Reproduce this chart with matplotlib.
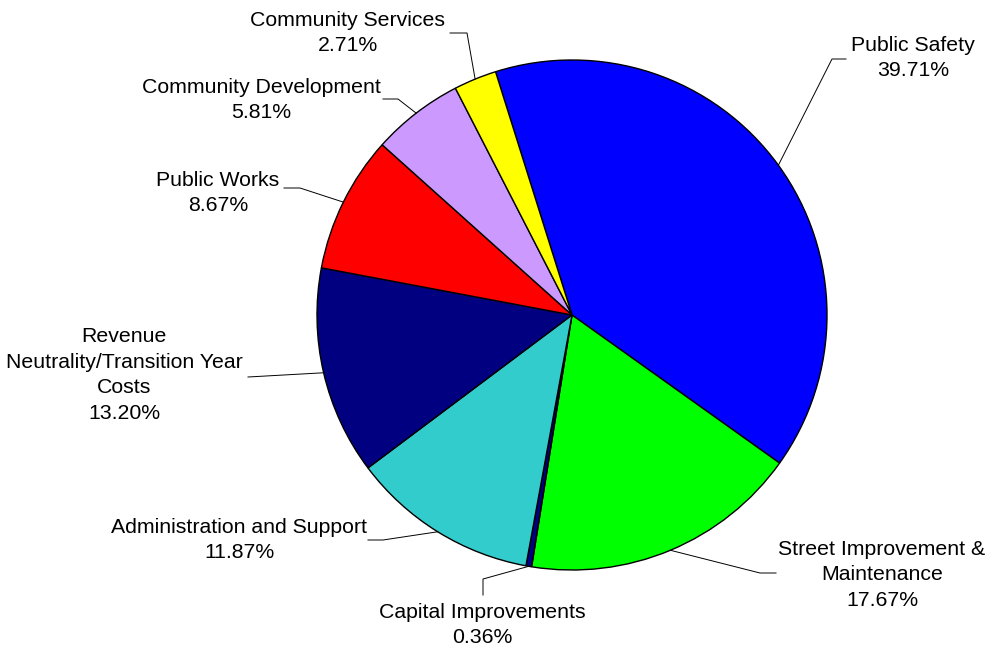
import numpy as np
import matplotlib.pyplot as plt

plt.rcParams['font.family'] = ['Liberation Sans', 'DejaVu Sans']

labels = ['Public Safety', 'Street Improvement &\nMaintenance', 'Capital Improvements',
          'Administration and Support', 'Revenue\nNeutrality/Transition Year\nCosts',
          'Public Works', 'Community Development', 'Community Services']
shares = [39.71, 17.67, 0.36, 11.87, 13.20, 8.67, 5.81, 2.71]
colors = ['#0000FF', '#00FF00', '#000080', '#33CCCC', '#000080',
          '#FF0000', '#CC99FF', '#FFFF00']

W, H = 989, 652
cx, cy, r = 572, 315, 255
start = 107.45

# leader line elbow / end and text centre, in pixel coords (y down)
elbows = [(832, 59), (760, 573), (483, 579), (383, 540), (248, 377),
          (300, 188), (398, 99), (467, 33)]
ends = [(846, 59), (776, 573), (483, 595), (368, 540), (248, 377),
        (284, 188), (383, 99), (450, 33)]
text_pos = [(913, 58), (882, 575), (482, 625), (239, 540), (124, 375),
            (218, 193), (261, 100), (348, 33)]

fig = plt.figure(figsize=(W / 100, H / 100), dpi=100)
ax = fig.add_axes([0, 0, 1, 1])

wedges, _ = ax.pie(shares, colors=colors, startangle=start, counterclock=False,
                   center=(cx, H - cy), radius=r,
                   wedgeprops=dict(edgecolor='black', linewidth=1.0))

ang = start
for i, v in enumerate(shares):
    mid = np.deg2rad(ang - v * 3.6 / 2)
    ang -= v * 3.6
    px, py = cx + r * np.cos(mid), cy - r * np.sin(mid)
    xs = [px, elbows[i][0], ends[i][0]]
    ys = [H - py, H - elbows[i][1], H - ends[i][1]]
    ax.plot(xs, ys, color='black', linewidth=0.7)
    ax.text(text_pos[i][0], H - text_pos[i][1], f'{labels[i]}\n{v:.2f}%',
            ha='center', va='center', fontsize=15.3, linespacing=1.44)

ax.set_xlim(0, W)
ax.set_ylim(0, H)
ax.set_aspect('auto')
ax.axis('off')

fig.savefig('out.png', dpi=100, facecolor='white')
